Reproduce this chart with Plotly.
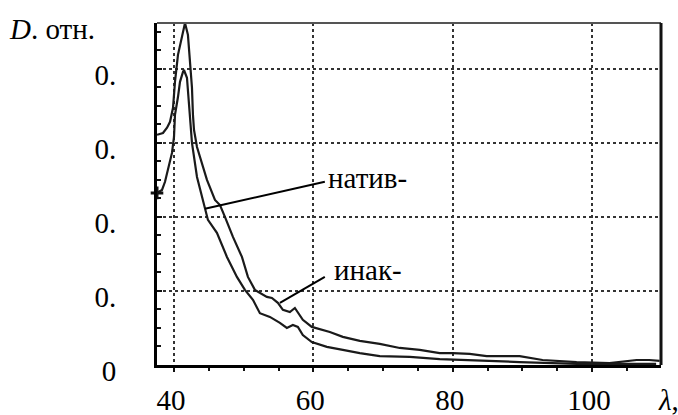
import plotly.graph_objects as go

# ---- data ----
lam_upper = [37.56, 38.42, 39.0, 39.43, 39.86, 40.14, 40.57, 41.15, 41.58, 42.0, 42.29, 42.58,
             42.72, 42.87, 43.30, 44.16, 44.73, 45.88, 46.6, 47.31, 48.46, 49.75, 50.61, 51.61,
             53.33, 54.05, 54.91, 55.63, 56.63, 57.35, 57.78, 58.49, 59.78, 61.22, 62.37, 64.23,
             66.67, 69.53, 72.40, 75.27, 78.14, 80.0, 82.44, 84.88, 89.61, 92.9, 97.78, 102.5,
             106.4, 108.2, 109.7]
d_upper = [0.622, 0.627, 0.641, 0.657, 0.695, 0.765, 0.838, 0.892, 0.924, 0.892, 0.811, 0.749,
           0.676, 0.635, 0.589, 0.535, 0.500, 0.446, 0.432, 0.400, 0.346, 0.292, 0.238, 0.203,
           0.184, 0.181, 0.168, 0.149, 0.143, 0.154, 0.143, 0.122, 0.103, 0.095, 0.089, 0.076,
           0.065, 0.057, 0.046, 0.041, 0.032, 0.032, 0.030, 0.024, 0.024, 0.0135, 0.008, 0.005,
           0.0135, 0.0135, 0.011]

lam_lower = [37.56, 38.28, 38.71, 39.14, 39.71, 40.0, 40.14, 40.57, 40.86, 41.29, 41.43, 41.86,
             42.0, 42.29, 42.58, 43.3, 44.01, 44.44, 44.87, 46.16, 47.6, 49.03, 50.18, 51.33,
             52.33, 53.76, 55.2, 56.2, 57.06, 57.78, 58.49, 59.78, 61.94, 64.23, 66.67, 69.53,
             73.84, 78.14, 81.0, 84.88, 89.61, 97.78, 102.5, 109.2]
d_lower = [0.465, 0.473, 0.495, 0.527, 0.573, 0.616, 0.676, 0.724, 0.765, 0.792, 0.797, 0.776,
           0.738, 0.676, 0.600, 0.508, 0.454, 0.419, 0.392, 0.357, 0.292, 0.238, 0.203, 0.176,
           0.140, 0.130, 0.114, 0.100, 0.108, 0.103, 0.081, 0.062, 0.049, 0.041, 0.032, 0.024,
           0.022, 0.016, 0.0135, 0.011, 0.008, 0.003, 0.003, 0.003]

x_ticks = [40, 60, 80, 100]
x_tick_labels = ["40", "60", "80", "100"]
y_ticks = [0, 0.2, 0.4, 0.6, 0.8]
y_tick_labels = ["0", "0.", "0.", "0.", "0."]

labels = ["натив-", "инак-"]
label_pos_x = [61.8, 62.7]
label_pos_y = [0.505, 0.257]
pointer_from = [(44.44, 0.422), (55.2, 0.168)]
pointer_to = [(61.65, 0.495), (61.65, 0.238)]

x_range = [37.56, 109.9]
y_range = [0, 0.924]

FONT = "Liberation Serif, serif"
FS = 29

fig = go.Figure()
fig.add_trace(go.Scatter(x=lam_upper, y=d_upper, mode="lines",
                         line=dict(color="#1a1a1a", width=2.2), showlegend=False))
fig.add_trace(go.Scatter(x=lam_lower, y=d_lower, mode="lines",
                         line=dict(color="#1a1a1a", width=2.2), showlegend=False))
fig.add_trace(go.Scatter(x=[lam_lower[0]], y=[d_lower[0]], mode="markers",
                         marker=dict(symbol="cross-thin", size=9,
                                     line=dict(color="#111", width=3)),
                         showlegend=False, cliponaxis=False))

for (x0, y0), (x1, y1) in zip(pointer_from, pointer_to):
    fig.add_shape(type="line", x0=x0, y0=y0, x1=x1, y1=y1, xref="x", yref="y",
                  line=dict(color="black", width=2))

for t, lx, ly in zip(labels, label_pos_x, label_pos_y):
    fig.add_annotation(x=lx, y=ly, text=t, showarrow=False, xanchor="left",
                       yanchor="middle", font=dict(family=FONT, size=FS, color="black"))

# frame (top gray, right black)
fig.add_shape(type="line", xref="paper", yref="paper", x0=0, x1=1, y0=1, y1=1,
              line=dict(color="#555", width=2))
fig.add_shape(type="line", xref="paper", yref="paper", x0=1, x1=1, y0=0, y1=1,
              line=dict(color="#111", width=3))

fig.add_annotation(xref="paper", yref="paper", x=-0.297, y=1.0, xanchor="left",
                   yanchor="middle", yshift=-6, showarrow=False,
                   text="<i>D</i>. отн.", font=dict(family=FONT, size=FS, color="black"))
fig.add_annotation(xref="paper", yref="paper", x=0.99, y=0, xanchor="left",
                   yanchor="middle", yshift=-35, showarrow=False,
                   text="<i>λ</i>,", font=dict(family=FONT, size=FS, color="black"))

fig.update_xaxes(range=x_range, tickvals=x_ticks, ticktext=x_tick_labels, automargin=False,
                 showgrid=True, gridcolor="#333", gridwidth=2, griddash="dot",
                 showline=True, linecolor="black", linewidth=3, zeroline=False,
                 ticks="outside", ticklen=4, tickwidth=2, tickcolor="#111",
                 ticklabelstandoff=3, ticklabelshift=-3,
                 minor=dict(dtick=5, tick0=0, ticks="outside", ticklen=3, tickcolor="#111", showgrid=False),
                 tickfont=dict(family=FONT, size=FS, color="black"))
fig.update_yaxes(range=y_range, tickvals=y_ticks, ticktext=y_tick_labels, automargin=False,
                 showgrid=True, gridcolor="#333", gridwidth=2, griddash="dot",
                 showline=True, linecolor="black", linewidth=3, zeroline=False,
                 ticks="inside", ticklen=5, tickwidth=2, tickcolor="#111",
                 ticklabelstandoff=32, ticklabelshift=6,
                 minor=dict(dtick=0.05, tick0=0, ticks="inside", ticklen=4, tickcolor="#111", showgrid=False),
                 tickfont=dict(family=FONT, size=FS, color="black"))

fig.update_layout(width=678, height=415, margin=dict(l=157, r=17, t=23, b=50),
                  plot_bgcolor="white", paper_bgcolor="white")

fig.write_html("out.html")
